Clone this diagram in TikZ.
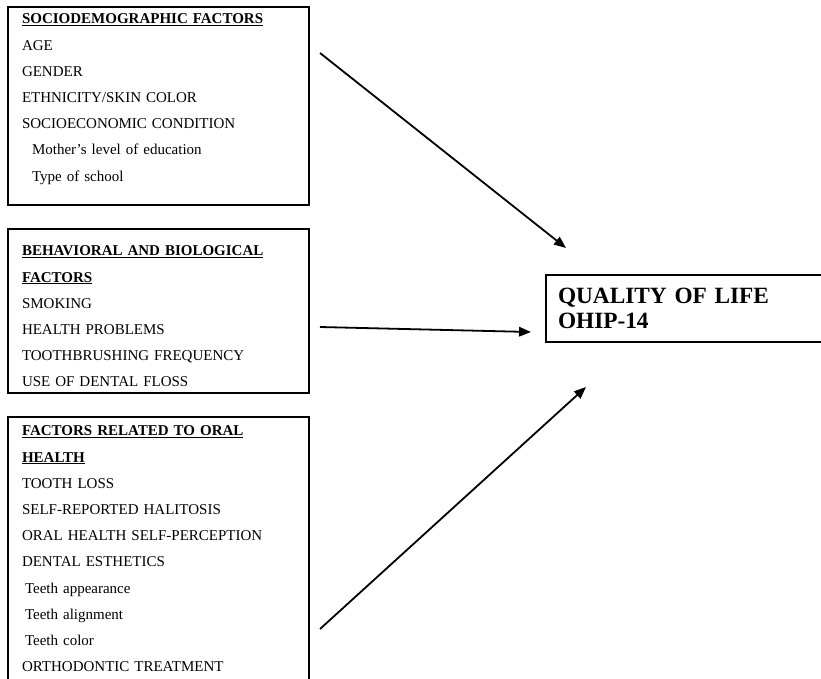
\documentclass[tikz,border=0pt]{standalone}
\usepackage{fontspec}
\setmainfont{Liberation Serif}
\usetikzlibrary{positioning}
\usetikzlibrary{arrows.meta}

\begin{document}
\begin{tikzpicture}[x=1pt,y=-1pt,
    marco/.style={draw, line width=1.4pt, inner sep=0pt, outer sep=0pt, minimum width=301pt, anchor=north west},
    lista/.style={align=left, inner sep=0pt, outer sep=0pt, text width=285pt, font=\fontsize{15}{26.2}\selectfont},
    flecha/.style={line width=1.8pt, -{Triangle[length=12pt,width=9.5pt]}}]

  \useasboundingbox (0,0) rectangle (821,679);
  \clip (0,0) rectangle (821,679);

  % Cajas de factores
  \node[marco, minimum height=198pt] (soc) at (8,7) {};
  \node[marco, minimum height=164pt, below=24pt of soc.south west, anchor=north west] (beh) {};
  \node[marco, minimum height=283pt, below=24pt of beh.south west, anchor=north west] (ora) {};

  \node[lista, below right=7pt and 14pt of soc.north west] (socTxt) {%
    \underline{\textbf{SOCIODEMOGRAPHIC FACTORS}}\\
    AGE\\
    GENDER\\
    ETHNICITY/SKIN COLOR\\
    SOCIOECONOMIC CONDITION\\
    \hspace*{10pt}Mother's level of education\\
    \hspace*{10pt}Type of school};

  \node[lista, below right=17pt and 14pt of beh.north west] (behTxt) {%
    \underline{\textbf{BEHAVIORAL AND BIOLOGICAL}}\\
    \underline{\textbf{FACTORS}}\\
    SMOKING\\
    HEALTH PROBLEMS\\
    TOOTHBRUSHING FREQUENCY\\
    USE OF DENTAL FLOSS};

  \node[lista, below right=9pt and 14pt of ora.north west] (oraTxt) {%
    \underline{\textbf{FACTORS RELATED TO ORAL}}\\
    \underline{\textbf{HEALTH}}\\
    TOOTH LOSS\\
    SELF-REPORTED HALITOSIS\\
    ORAL HEALTH SELF-PERCEPTION\\
    DENTAL ESTHETICS\\
    \hspace*{3pt}Teeth appearance\\
    \hspace*{3pt}Teeth alignment\\
    \hspace*{3pt}Teeth color\\
    ORTHODONTIC TREATMENT};

  % Resultado
  \node[draw, line width=1.4pt, anchor=north west, outer sep=0pt, inner xsep=12pt,
        minimum height=67pt, text width=260pt, align=left,
        font=\bfseries\fontsize{23.3}{25}\selectfont] (qol) at (546,275)
        {QUALITY OF LIFE\\OHIP-14};

  % Extremos de las flechas
  \coordinate[below right=46pt and 11pt of soc.north east] (s1);
  \coordinate[below right=98pt and 11pt of beh.north east] (s2);
  \coordinate[below right=212pt and 11pt of ora.north east] (s3);
  \coordinate[above right=27pt and 20pt of qol.north west] (e1);
  \coordinate[below left=57pt and 15pt of qol.north west] (e2);
  \coordinate[below right=112pt and 40pt of qol.north west] (e3);

  \draw[flecha] (s1) -- (e1); % Sociodemograficos
  \draw[flecha] (s2) -- (e2); % Conductuales
  \draw[flecha] (s3) -- (e3); % Salud oral

\end{tikzpicture}
\end{document}
